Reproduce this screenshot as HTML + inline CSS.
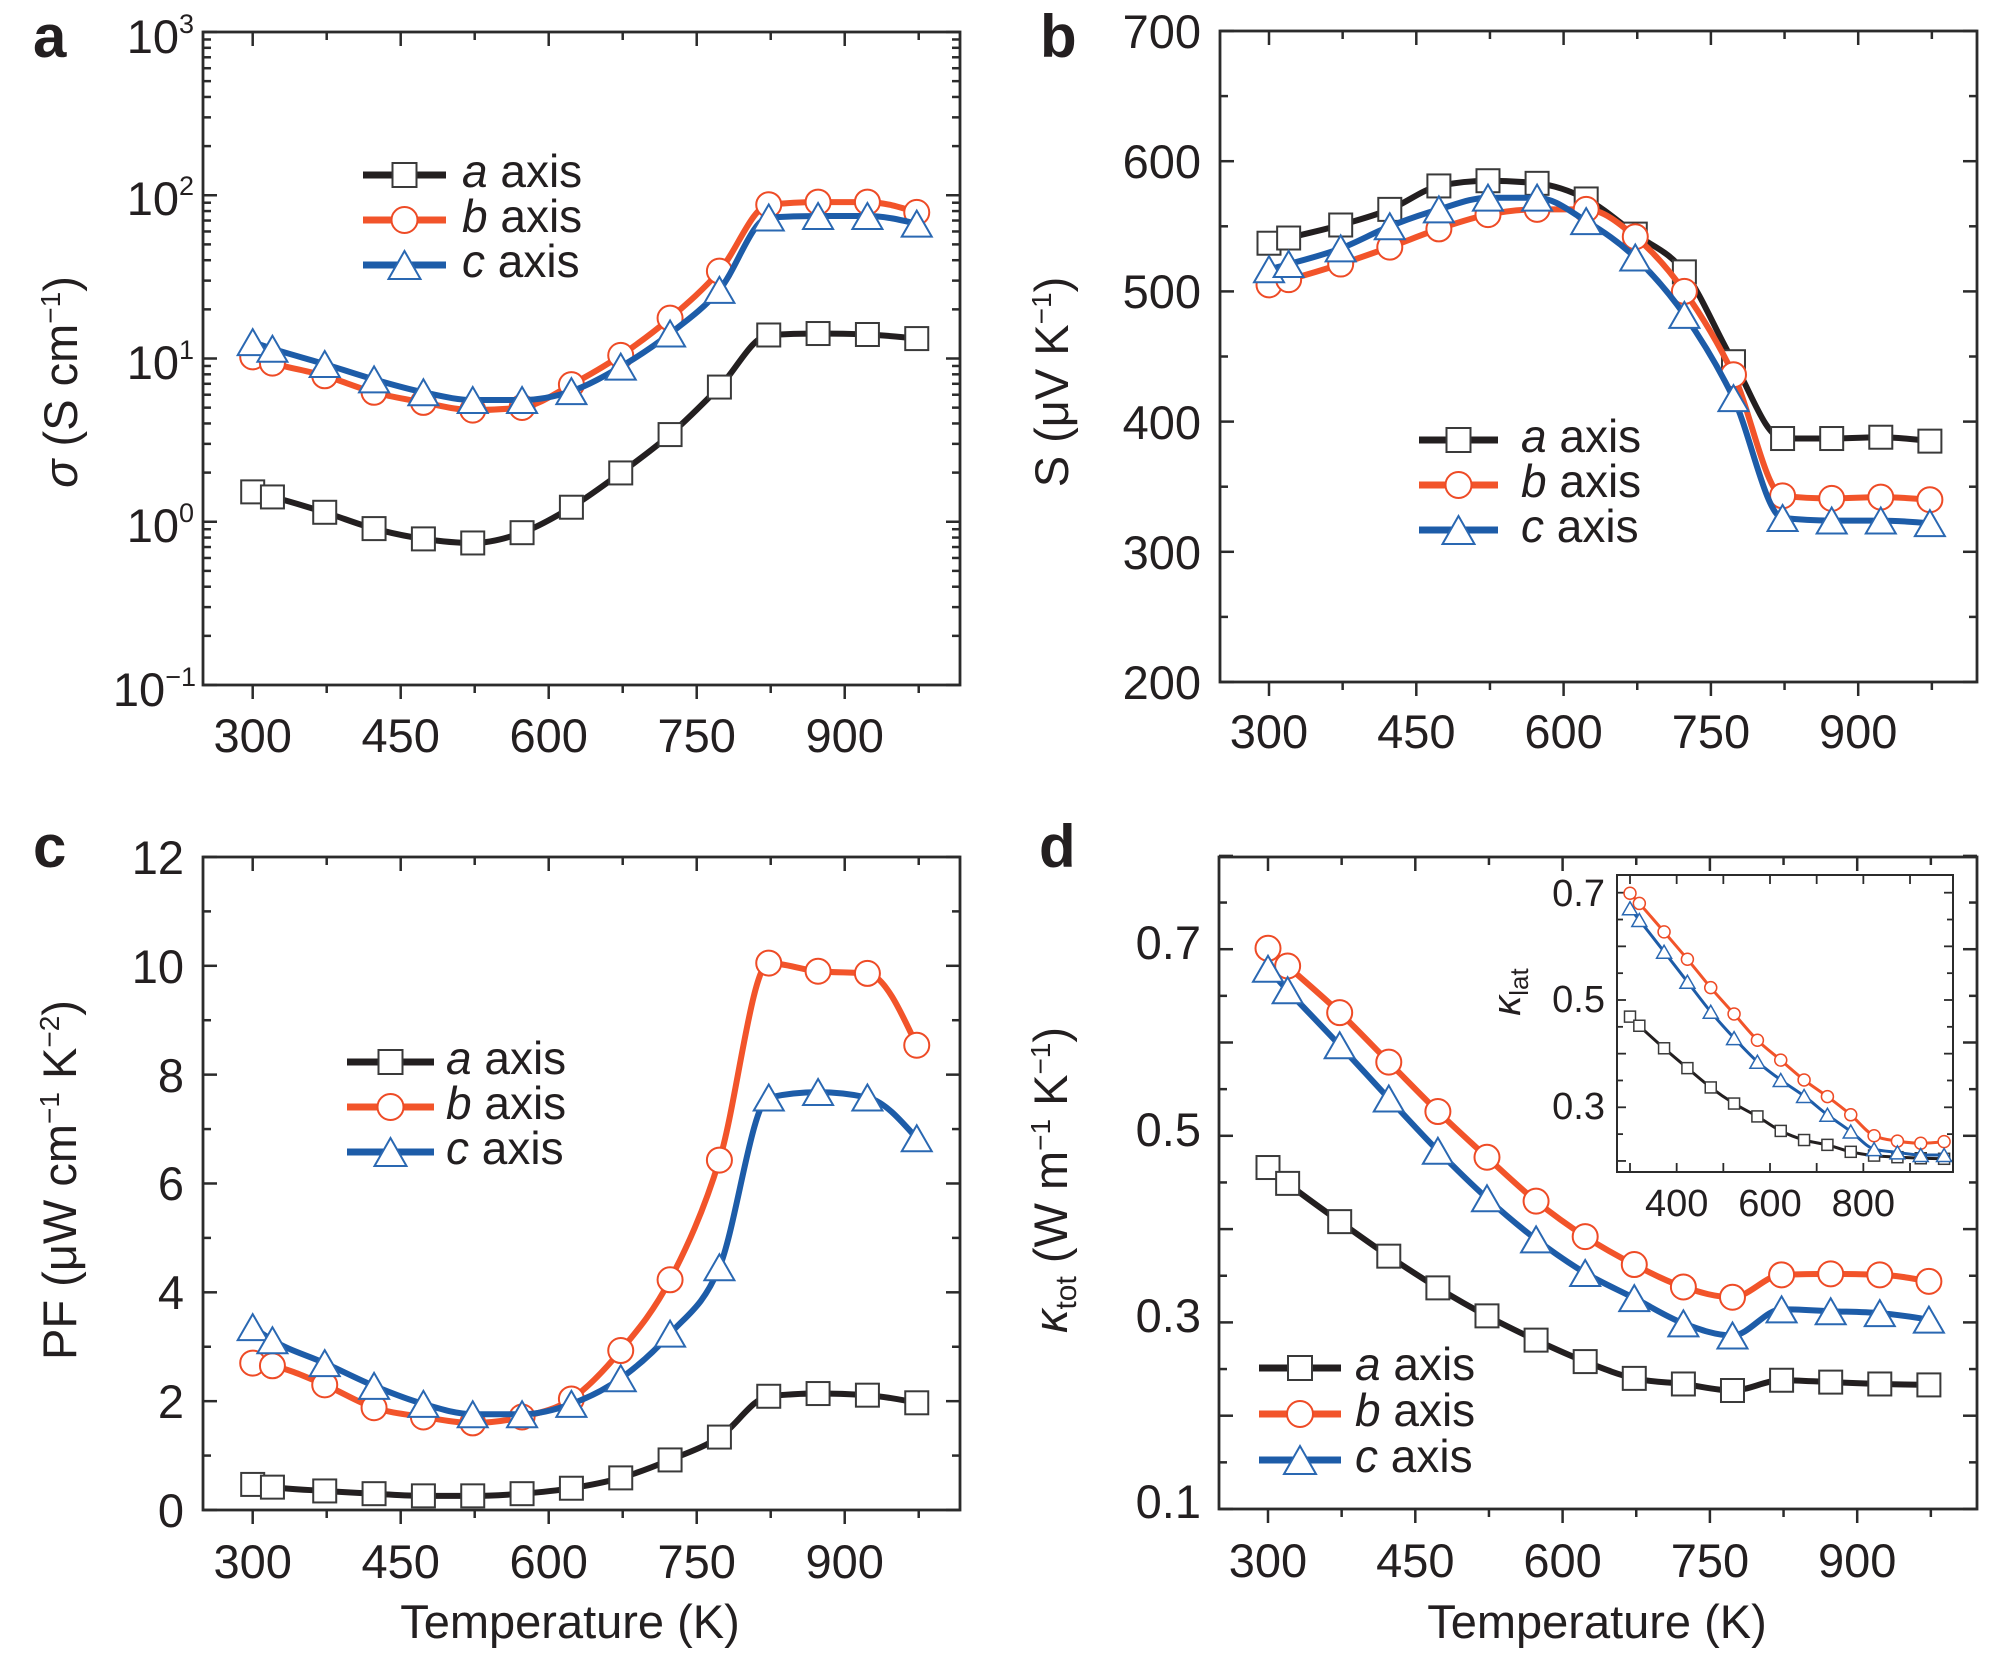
<!DOCTYPE html>
<html><head><meta charset="utf-8">
<style>
html,body{margin:0;padding:0;background:#fff;}
svg{display:block;}
text{font-family:"Liberation Sans",Arial,sans-serif;fill:#231f20;}
</style></head>
<body>
<svg id="s" width="2000" height="1663" viewBox="0 0 2000 1663" xmlns="http://www.w3.org/2000/svg">
<rect width="2000" height="1663" fill="#fff"/>
<g id="plots"></g>
<g id="labels" font-size="47">
  <!-- panel letters -->
  <text x="33" y="57" font-size="60" font-weight="bold">a</text>
  <text x="1040" y="57" font-size="60" font-weight="bold">b</text>
  <text x="33" y="867" font-size="60" font-weight="bold">c</text>
  <text x="1039" y="867" font-size="60" font-weight="bold">d</text>

  <!-- Panel a ticks -->
  <g text-anchor="middle">
    <text x="252.7" y="752">300</text><text x="400.7" y="752">450</text><text x="548.7" y="752">600</text><text x="696.7" y="752">750</text><text x="844.7" y="752">900</text>
  </g>
  <g text-anchor="end">
    <text x="194" y="53">10<tspan font-size="27" dy="-20">3</tspan></text>
    <text x="194" y="215">10<tspan font-size="27" dy="-20">2</tspan></text>
    <text x="194" y="379">10<tspan font-size="27" dy="-20">1</tspan></text>
    <text x="194" y="542">10<tspan font-size="27" dy="-20">0</tspan></text>
    <text x="196" y="706">10<tspan font-size="27" dy="-20">−1</tspan></text>
  </g>
  <text transform="translate(77,382) rotate(-90)" text-anchor="middle"><tspan font-style="italic">σ</tspan> (S cm<tspan font-size="28" dy="-17">−1</tspan><tspan dy="17">)</tspan></text>

  <!-- Panel b ticks -->
  <g text-anchor="middle">
    <text x="1269" y="748">300</text><text x="1416.3" y="748">450</text><text x="1563.6" y="748">600</text><text x="1710.9" y="748">750</text><text x="1858.2" y="748">900</text>
  </g>
  <g text-anchor="end">
    <text x="1201" y="48">700</text><text x="1201" y="178">600</text><text x="1201" y="308">500</text><text x="1201" y="439">400</text><text x="1201" y="569">300</text><text x="1201" y="699">200</text>
  </g>
  <text transform="translate(1068,382) rotate(-90)" text-anchor="middle">S (μV K<tspan font-size="28" dy="-17">−1</tspan><tspan dy="17">)</tspan></text>

  <!-- Panel c ticks -->
  <g text-anchor="middle">
    <text x="252.7" y="1578">300</text><text x="400.7" y="1578">450</text><text x="548.7" y="1578">600</text><text x="696.7" y="1578">750</text><text x="844.7" y="1578">900</text>
  </g>
  <g text-anchor="end">
    <text x="184" y="874">12</text><text x="184" y="983">10</text><text x="184" y="1092">8</text><text x="184" y="1200">6</text><text x="184" y="1309">4</text><text x="184" y="1418">2</text><text x="184" y="1527">0</text>
  </g>
  <text transform="translate(76,1180) rotate(-90)" text-anchor="middle">PF (μW cm<tspan font-size="28" dy="-17">−1</tspan><tspan dy="17"> K</tspan><tspan font-size="28" dy="-17">−2</tspan><tspan dy="17">)</tspan></text>
  <text x="570" y="1638" text-anchor="middle">Temperature (K)</text>

  <!-- Panel d ticks -->
  <g text-anchor="middle">
    <text x="1268" y="1577">300</text><text x="1415.3" y="1577">450</text><text x="1562.6" y="1577">600</text><text x="1709.9" y="1577">750</text><text x="1857.2" y="1577">900</text>
  </g>
  <g text-anchor="end">
    <text x="1201" y="959">0.7</text><text x="1201" y="1146">0.5</text><text x="1201" y="1332">0.3</text><text x="1201" y="1518">0.1</text>
  </g>
  <text transform="translate(1067,1180) rotate(-90)" text-anchor="middle"><tspan font-style="italic">κ</tspan><tspan font-size="30" dy="9">tot</tspan><tspan dy="-9"> (W m</tspan><tspan font-size="28" dy="-17">−1</tspan><tspan dy="17"> K</tspan><tspan font-size="28" dy="-17">−1</tspan><tspan dy="17">)</tspan></text>
  <text x="1597" y="1638" text-anchor="middle">Temperature (K)</text>

  <!-- Inset labels -->
  <g font-size="38" text-anchor="end">
    <text x="1605" y="906">0.7</text><text x="1605" y="1012">0.5</text><text x="1605" y="1119">0.3</text>
  </g>
  <g font-size="38" text-anchor="middle">
    <text x="1676.7" y="1216">400</text><text x="1770" y="1216">600</text><text x="1863.3" y="1216">800</text>
  </g>
  <text transform="translate(1520,992) rotate(-90)" text-anchor="middle" font-size="40"><tspan font-style="italic">κ</tspan><tspan font-size="26" dy="8">lat</tspan></text>

  <!-- Legends text -->
  <g font-size="46">
    <text x="462" y="187"><tspan font-style="italic">a</tspan> axis</text>
    <text x="462" y="232"><tspan font-style="italic">b</tspan> axis</text>
    <text x="462" y="277"><tspan font-style="italic">c</tspan> axis</text>

    <text x="1521" y="452"><tspan font-style="italic">a</tspan> axis</text>
    <text x="1521" y="497"><tspan font-style="italic">b</tspan> axis</text>
    <text x="1521" y="542"><tspan font-style="italic">c</tspan> axis</text>

    <text x="446" y="1074"><tspan font-style="italic">a</tspan> axis</text>
    <text x="446" y="1119"><tspan font-style="italic">b</tspan> axis</text>
    <text x="446" y="1164"><tspan font-style="italic">c</tspan> axis</text>

    <text x="1355" y="1380"><tspan font-style="italic">a</tspan> axis</text>
    <text x="1355" y="1426"><tspan font-style="italic">b</tspan> axis</text>
    <text x="1355" y="1472"><tspan font-style="italic">c</tspan> axis</text>
  </g>
</g>
</svg>
<script>
(function(){
const NS='http://www.w3.org/2000/svg';
const G=document.getElementById('plots');
function el(t,a,p){const e=document.createElementNS(NS,t);for(const k in a)e.setAttribute(k,a[k]);(p||G).appendChild(e);return e;}
const T=[300,320,373,423,473,523,573,623,673,723,773,823,873,923,973];
const COL={a:'#231f20',b:'#f2542a',c:'#1d5ca8'};
const MST={a:'#3a3a3a',b:'#ee4b26',c:'#2a68b2'};
function f(n){return n.toFixed(1);}
function sgn(v){return v<0?-1:1;}
// monotone cubic (like d3 curveMonotoneX)
function path(pts){
  const n=pts.length;
  const h=[],s=[];
  for(let i=0;i<n-1;i++){h.push(pts[i+1][0]-pts[i][0]);s.push((pts[i+1][1]-pts[i][1])/h[i]);}
  const m=new Array(n);
  for(let i=1;i<n-1;i++){
    const s0=s[i-1],s1=s[i],h0=h[i-1],h1=h[i];
    const p=(s0*h1+s1*h0)/(h0+h1);
    m[i]=(sgn(s0)+sgn(s1))*Math.min(Math.abs(s0),Math.abs(s1),0.5*Math.abs(p))||0;
  }
  m[0]=h.length?((3*s[0]-m[1])/2):0;
  if(Math.sign(m[0])!==Math.sign(s[0]))m[0]=s[0];
  m[n-1]=(3*s[n-2]-m[n-2])/2;
  if(Math.sign(m[n-1])!==Math.sign(s[n-2]))m[n-1]=s[n-2];
  let d='M'+f(pts[0][0])+','+f(pts[0][1]);
  for(let i=0;i<n-1;i++){
    const dx=h[i]/3;
    d+='C'+f(pts[i][0]+dx)+','+f(pts[i][1]+m[i]*dx)+' '+f(pts[i+1][0]-dx)+','+f(pts[i+1][1]-m[i+1]*dx)+' '+f(pts[i+1][0])+','+f(pts[i+1][1]);
  }
  return d;
}
function marker(type,x,y,ms,sw,g){
  if(type==='a'){const s=ms.a;el('rect',{x:x-s/2,y:y-s/2,width:s,height:s,fill:'#fff',stroke:MST.a,'stroke-width':sw},g);}
  else if(type==='b'){el('circle',{cx:x,cy:y,r:ms.b/2,fill:'#fff',stroke:MST.b,'stroke-width':sw},g);}
  else {const w=ms.c[0],hh=ms.c[1];el('polygon',{points:x+','+(y-hh/2)+' '+(x-w/2)+','+(y+hh/2)+' '+(x+w/2)+','+(y+hh/2),fill:'#fff',stroke:MST.c,'stroke-width':sw},g);}
}
function panel(cfg){
  const g=el('g',{});
  const L=cfg.frame[0],R=cfg.frame[1],Tp=cfg.frame[2],B=cfg.frame[3];
  if(cfg.bg) el('rect',{x:L,y:Tp,width:R-L,height:B-Tp,fill:'#fff'},g);
  const tw=cfg.tw;
  function ln(x1,y1,x2,y2){el('line',{x1:x1,y1:y1,x2:x2,y2:y2,stroke:'#2b2b2b','stroke-width':tw},g);}
  cfg.xt.forEach(function(q){const x=cfg.x(q[0]);const len=q[1]?cfg.tl[0]:cfg.tl[1];
    if(cfg.bout) ln(x,B,x,B+len); else ln(x,B,x,B-len);
    ln(x,Tp,x,Tp+len);});
  cfg.yt.forEach(function(q){const y=cfg.y(q[0]);const len=q[1]?cfg.tl[0]:cfg.tl[1];
    ln(L,y,L+len,y); ln(R,y,R-len,y);});
  ['a','b','c'].forEach(function(s){
    const pts=T.map(function(t,i){return [cfg.x(t),cfg.y(cfg.data[s][i])];});
    el('path',{d:path(pts),fill:'none',stroke:COL[s],'stroke-width':cfg.lw,'stroke-linejoin':'round','stroke-linecap':'round'},g);
    pts.forEach(function(p){marker(s,p[0],p[1],cfg.ms,cfg.msw,g);});
  });
  el('rect',{x:L,y:Tp,width:R-L,height:B-Tp,fill:'none',stroke:'#2b2b2b','stroke-width':cfg.fw},g);
  if(cfg.leg){
    const lg=cfg.leg;
    ['a','b','c'].forEach(function(s,i){
      const y=lg.rows[i];
      el('line',{x1:lg.x[0],x2:lg.x[1],y1:y,y2:y,stroke:COL[s],'stroke-width':7},g);
      marker(s,(lg.x[0]+lg.x[1])/2,y,{a:24,b:26,c:[32,28]},2,g);
    });
  }
}
function rng(a,b,st){const o=[];for(let v=a;v<=b+1e-9;v+=st)o.push(Math.round(v*1000)/1000);return o;}
const xtMain=rng(300,975,75).map(function(t){return [t,(t-300)%150===0];});
const msMain={a:23,b:25,c:[30,26]};

// Panel a
const ytA=[];
for(let d=-1;d<=2;d++){for(let mm=1;mm<=9;mm++){ytA.push([d+Math.log10(mm),mm===1]);}}
ytA.push([3,true]);
panel({
  frame:[203,960,32,685],
  x:function(t){return 252.7+(t-300)*0.9867;},
  y:function(v){return 32+(3-v)*163.25;},
  xt:xtMain,yt:ytA,tl:[14,8],tw:2.5,fw:2.8,bout:true,lw:6,ms:msMain,msw:2,
  data:{
    a:[0.183,0.152,0.058,-0.042,-0.105,-0.13,-0.067,0.089,0.299,0.534,0.825,1.144,1.153,1.147,1.122],
    b:[1.01,0.972,0.894,0.793,0.731,0.684,0.70,0.84,1.019,1.247,1.535,1.942,1.958,1.958,1.895],
    c:[1.10,1.06,0.966,0.872,0.793,0.746,0.746,0.80,0.95,1.153,1.42,1.864,1.873,1.873,1.826]
  },
  leg:{rows:[175,220,265],x:[363,446]}
});
// Panel b
panel({
  frame:[1220,1977,31,682],
  x:function(t){return 1269+(t-300)*0.982;},
  y:function(S){return 31+(700-S)*1.302;},
  xt:xtMain,yt:rng(200,700,50).map(function(v){return [v,v%100===0];}),tl:[14,8],tw:2.5,fw:2.8,bout:true,lw:6,ms:msMain,msw:2,
  data:{
    a:[537,541,551,563,581,585,583,571,544,515,446,387,387,388,385],
    b:[505,509,521,534,548,559,563,563,542,500,436,343,341,342,340],
    c:[517,521,533,550,563,572,572,554,526,482,418,326,324,324,322]
  },
  leg:{rows:[440,485,530],x:[1419,1498]}
});
// Panel c
panel({
  frame:[203,960,857,1510],
  x:function(t){return 252.7+(t-300)*0.9867;},
  y:function(P){return 1510-P*54.42;},
  xt:xtMain,yt:rng(0,12,1).map(function(v){return [v,v%2===0];}),tl:[14,8],tw:2.5,fw:2.8,bout:true,lw:6,ms:msMain,msw:2,
  data:{
    a:[0.47,0.42,0.35,0.30,0.26,0.26,0.30,0.40,0.59,0.92,1.34,2.09,2.14,2.11,1.97],
    b:[2.70,2.65,2.30,1.88,1.71,1.60,1.71,2.04,2.93,4.23,6.43,10.05,9.90,9.86,8.54],
    c:[3.36,3.12,2.70,2.28,1.95,1.76,1.76,1.95,2.42,3.24,4.46,7.58,7.68,7.58,6.83]
  },
  leg:{rows:[1062,1107,1152],x:[347,434]}
});
// Panel d
panel({
  frame:[1219,1977,857,1509],
  x:function(t){return 1268+(t-300)*0.982;},
  y:function(k){return 1509-(k-0.1)*933;},
  xt:xtMain,yt:rng(0.1,0.8,0.05).map(function(v){return [v,Math.round(v*100)%10===0];}),tl:[14,8],tw:2.5,fw:2.8,bout:true,lw:6,ms:msMain,msw:2,
  data:{
    a:[0.466,0.449,0.408,0.371,0.337,0.307,0.281,0.258,0.240,0.234,0.227,0.238,0.236,0.234,0.233],
    b:[0.701,0.682,0.632,0.579,0.526,0.477,0.430,0.392,0.362,0.338,0.327,0.351,0.352,0.351,0.344],
    c:[0.679,0.656,0.597,0.540,0.484,0.433,0.389,0.353,0.326,0.299,0.286,0.314,0.312,0.310,0.303]
  },
  leg:{rows:[1368,1414,1460],x:[1259,1341]}
});
// Inset
panel({
  bg:true,
  frame:[1617,1953,875,1172],
  x:function(t){return 1630+(t-300)*0.4667;},
  y:function(k){return 892.7+(0.7-k)*536.5;},
  xt:rng(300,900,100).map(function(t){return [t,true];}),
  yt:rng(0.2,0.7,0.05).map(function(v){return [v,Math.round(v*100)%10===0];}),
  tl:[9,6],tw:1.8,fw:2,bout:false,lw:3,ms:{a:11,b:12,c:[15,13]},msw:1.5,
  data:{
    a:[0.469,0.452,0.41,0.373,0.337,0.307,0.283,0.256,0.239,0.23,0.217,0.21,0.207,0.205,0.204],
    b:[0.699,0.68,0.627,0.576,0.523,0.474,0.425,0.388,0.351,0.32,0.286,0.247,0.237,0.233,0.236],
    c:[0.671,0.649,0.59,0.534,0.478,0.429,0.385,0.351,0.321,0.286,0.255,0.222,0.216,0.211,0.211]
  }
});
})();
</script>
</body></html>
